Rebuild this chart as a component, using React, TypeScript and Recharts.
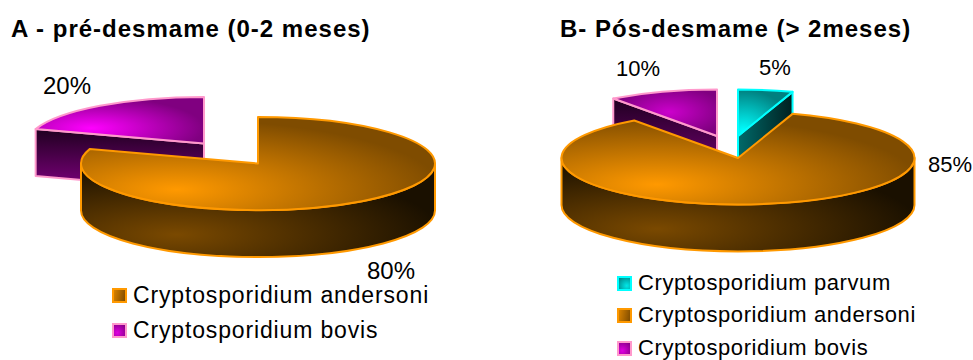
import { Legend, Pie, PieChart } from "recharts";

const FONT = '"Liberation Sans", Arial, sans-serif';

const ANDERSONI = "Cryptosporidium andersoni";
const BOVIS = "Cryptosporidium bovis";
const PARVUM = "Cryptosporidium parvum";

// slices are listed back to front so the large slice overlaps the pulled-out ones
const namesA = [BOVIS, ANDERSONI];
const valuesA = [20, 80];
const legendA = [ANDERSONI, BOVIS];

const namesB = [BOVIS, PARVUM, ANDERSONI];
const valuesB = [10, 5, 85];
const legendB = [PARVUM, ANDERSONI, BOVIS];

const TILT = 0.263;

const STROKES: Record<string, string> = {
  [ANDERSONI]: "#FF9900",
  [BOVIS]: "#FF99CC",
  [PARVUM]: "#00FFFF",
};

const SWATCHES: Record<string, string> = {
  [ANDERSONI]: "linear-gradient(100deg, #D88200, #7F4C00)",
  [BOVIS]: "radial-gradient(circle at 30% 70%, #E000E0, #800080)",
  [PARVUM]: "radial-gradient(circle at 70% 70%, #00E8E8, #008080)",
};

type Panel = {
  id: string;
  left: number;
  width: number;
  title: string;
  titleX: number;
  cx: number;
  cy: number;
  rx: number;
  depth: number;
  startAngle: number;
  names: string[];
  values: number[];
  legend: string[];
  legendLeft: number;
  legendRows: number[];
  legendFont: number;
  legendSpacing: number;
  labelFont: number;
  shifts: Record<string, [number, number]>;
  labelAt: Record<string, [number, number]>;
};

const panels: Panel[] = [
  {
    id: "a",
    left: 0,
    width: 486,
    title: "A - pré-desmame (0-2 meses)",
    titleX: 11,
    cx: 258,
    cy: 163.5,
    rx: 177,
    depth: 47,
    startAngle: 162,
    names: namesA,
    values: valuesA,
    legend: legendA,
    legendLeft: 112,
    legendRows: [295, 330],
    legendFont: 23,
    legendSpacing: 0.85,
    labelFont: 24,
    shifts: { [BOVIS]: [-54, -20] },
    labelAt: { [ANDERSONI]: [391, 270], [BOVIS]: [67, 85] },
  },
  {
    id: "b",
    left: 486,
    width: 487,
    title: "B- Pós-desmame (> 2meses)",
    titleX: 74,
    cx: 252,
    cy: 158,
    rx: 176.5,
    depth: 47,
    startAngle: 126,
    names: namesB,
    values: valuesB,
    legend: legendB,
    legendLeft: 131,
    legendRows: [283, 315, 348],
    legendFont: 22,
    legendSpacing: 0.6,
    labelFont: 22,
    shifts: { [BOVIS]: [-21, -22], [PARVUM]: [0, -22] },
    labelAt: {
      [ANDERSONI]: [464, 164],
      [BOVIS]: [152, 68],
      [PARVUM]: [289, 67],
    },
  },
];

const rad = (deg: number) => (deg * Math.PI) / 180;

function PieSlice3D({ panel, ...props }: any) {
  const { cx, cy, outerRadius: rx, startAngle: hi, endAngle: lo, name } = props;
  const [dx, dy] = panel.shifts[name] ?? [0, 0];
  const ry = rx * TILT;
  const depth = panel.depth;
  const stroke = STROKES[name];
  const key = name.split(" ")[1];
  const px = (deg: number) => cx + dx + rx * Math.cos(rad(deg));
  const py = (deg: number) => cy + dy - ry * Math.sin(rad(deg));
  const ax = cx + dx;
  const ay = cy + dy;

  const top =
    `M${ax},${ay} L${px(hi)},${py(hi)} ` +
    `A${rx},${ry} 0 ${hi - lo > 180 ? 1 : 0} 1 ${px(lo)},${py(lo)} Z`;

  const cut = (deg: number) =>
    `M${ax},${ay} L${px(deg)},${py(deg)} L${px(deg)},${py(deg) + depth} L${ax},${ay + depth} Z`;

  // outer wall is only visible along the front half of the ellipse
  const rims: string[] = [];
  for (const k of [-1, 0, 1]) {
    const from = Math.min(hi, 360 * k);
    const to = Math.max(lo, 360 * k - 180);
    if (from > to) {
      rims.push(
        `M${px(from)},${py(from)} A${rx},${ry} 0 0 1 ${px(to)},${py(to)} ` +
          `L${px(to)},${py(to) + depth} A${rx},${ry} 0 0 0 ${px(from)},${py(from) + depth} Z`,
      );
    }
  }

  const startVisible = Math.cos(rad(hi)) < -1e-6;
  const endVisible = Math.cos(rad(lo)) > 1e-6;
  const common = { stroke, strokeWidth: 2, strokeLinejoin: "round" as const };

  return (
    <g>
      {startVisible && <path d={cut(hi)} fill={`url(#${panel.id}-${key}-cut)`} {...common} />}
      {endVisible && <path d={cut(lo)} fill={`url(#${panel.id}-${key}-cut)`} {...common} />}
      {rims.map((d) => (
        <path key={d} d={d} fill={`url(#${panel.id}-${key}-rim)`} {...common} />
      ))}
      <path d={top} fill={`url(#${panel.id}-${key}-top)`} {...common} />
    </g>
  );
}

function Radial({ id, x, y, r, from, to }: any) {
  return (
    <radialGradient id={id} cx={x} cy={y} r={r}>
      <stop offset="0" stopColor={from} />
      <stop offset="1" stopColor={to} />
    </radialGradient>
  );
}

function Gradients({ id }: { id: string }) {
  const isA = id === "a";
  return (
    <defs>
      <Radial id={`${id}-andersoni-top`} x={0.27} y={0.78} r={0.75} from="#FF9900" to="#7F4C00" />
      <Radial id={`${id}-andersoni-rim`} x={0.27} y={0.76} r={0.75} from="#7A4900" to="#1A1000" />
      <Radial
        id={`${id}-bovis-top`}
        x={isA ? 0.33 : 0.54}
        y={isA ? 0.67 : 0.48}
        r={isA ? 0.67 : 0.55}
        from={isA ? "#FF00FF" : "#CC00CC"}
        to="#800080"
      />
      <linearGradient id={`${id}-bovis-cut`} x1="0" y1="0" x2="0" y2="1">
        <stop offset="0" stopColor="#200020" />
        <stop offset="1" stopColor="#800080" />
      </linearGradient>
      <Radial id={`${id}-parvum-top`} x={0.1} y={0.9} r={0.9} from="#00FFFF" to="#008080" />
      <linearGradient id={`${id}-parvum-cut`} x1="0" y1="0" x2="1" y2="0">
        <stop offset="0" stopColor="#006A6A" />
        <stop offset="1" stopColor="#002020" />
      </linearGradient>
    </defs>
  );
}

function LegendRows({ panel }: { panel: Panel }) {
  return (
    <>
      {panel.legend.map((name, i) => (
        <div
          key={name}
          style={{
            position: "absolute",
            left: panel.legendLeft,
            top: panel.legendRows[i] - 15,
            height: 30,
            display: "flex",
            alignItems: "center",
            whiteSpace: "nowrap",
            fontFamily: FONT,
            fontSize: panel.legendFont,
            letterSpacing: panel.legendSpacing,
            color: "#000",
          }}
        >
          <span
            style={{
              width: 11,
              height: 11,
              border: `2px solid ${STROKES[name]}`,
              background: SWATCHES[name],
              marginRight: 6,
            }}
          />
          {name}
        </div>
      ))}
    </>
  );
}

function PanelChart({ panel }: { panel: Panel }) {
  const data = panel.names.map((name, i) => ({ name, value: panel.values[i] }));
  return (
    <div style={{ position: "absolute", left: panel.left, top: 0 }}>
      <PieChart width={panel.width} height={360} margin={{ top: 0, right: 0, bottom: 0, left: 0 }}>
        <Gradients id={panel.id} />
        <text
          x={panel.titleX}
          y={37}
          fontFamily={FONT}
          fontSize={24}
          fontWeight="bold"
          letterSpacing={1}
          fill="#000"
        >
          {panel.title}
        </text>
        <Pie
          data={data}
          dataKey="value"
          nameKey="name"
          cx={panel.cx}
          cy={panel.cy}
          innerRadius={0}
          outerRadius={panel.rx}
          startAngle={panel.startAngle}
          endAngle={panel.startAngle - 360}
          paddingAngle={0}
          isAnimationActive={false}
          labelLine={false}
          shape={(p: any) => <PieSlice3D {...p} panel={panel} />}
          label={({ name, value }: any) => (
            <text
              x={panel.labelAt[name][0]}
              y={panel.labelAt[name][1]}
              textAnchor="middle"
              dominantBaseline="central"
              fontFamily={FONT}
              fontSize={panel.labelFont}
              fill="#000"
            >
              {value}%
            </text>
          )}
        />
        <Legend
          content={() => <LegendRows panel={panel} />}
          wrapperStyle={{ position: "absolute", left: 0, top: 0, width: 0, height: 0 }}
        />
      </PieChart>
    </div>
  );
}

export default function App() {
  return (
    <div style={{ position: "absolute", left: 0, top: 0, width: 973, height: 360, background: "#fff" }}>
      {panels.map((panel) => (
        <PanelChart key={panel.id} panel={panel} />
      ))}
    </div>
  );
}
